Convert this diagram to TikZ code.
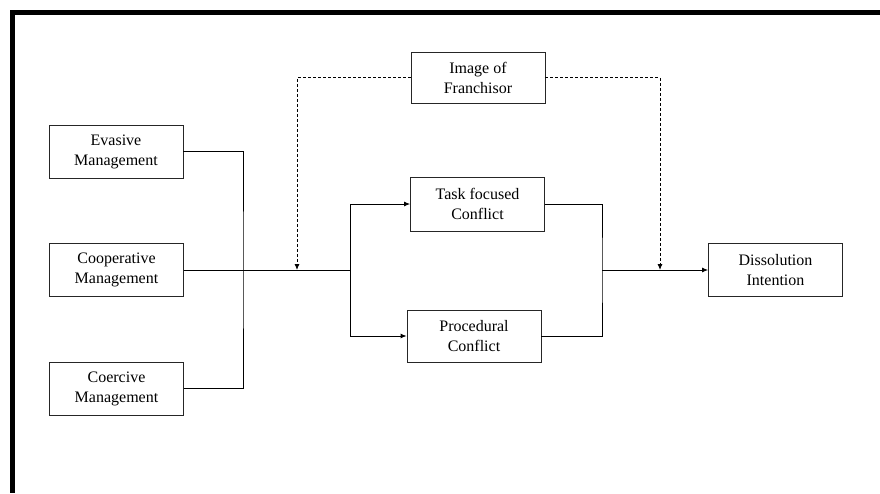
\documentclass[tikz,border=0pt]{standalone}
\usepackage{fontspec}
\setmainfont{Liberation Serif}
\usepackage{tikz}
\usetikzlibrary{arrows.meta}
\usetikzlibrary{positioning}
\tikzset{>={Latex[length=6pt,width=5pt]}}
\tikzstyle{box} = [rectangle, draw=black!85, line width=0.8pt, minimum width=134pt, minimum height=53pt, align=center, font=\fontsize{16}{20}\selectfont, inner sep=0pt]
\tikzstyle{link} = [-, draw=black, line width=0.9pt]
\tikzstyle{moder} = [->, dash pattern=on 3pt off 2pt, line width=0.9pt]

\begin{document}
\begin{tikzpicture}[x=1pt, y=-1pt]
\useasboundingbox (0,0) rectangle (880,493);
\draw [line width=5pt] (880,12.5) -- (12,12.5) -- (12,493);
\node [box] (eva) at (116, 151.5) {Evasive\\Management};
\node [box] (coop) at (116.5, 270) {Cooperative\\Management};
\node [box] (coer) at (116.5, 388.5) {Coercive\\Management};
\node [box, minimum height=51pt] (img) at (478, 77.5) {Image of\\Franchisor};
\node [box, minimum height=54pt] (task) at (477.5, 204) {Task focused\\Conflict};
\node [box, minimum height=52pt] (proc) at (474, 336) {Procedural\\Conflict};
\node [box] (diss) at (775.5, 270) {Dissolution\\Intention};
\coordinate (bus) at (243, 270);
\coordinate (split) at (350, 270);
\coordinate (merge) at (602, 270);
\coordinate (modL) at (297, 270);
\coordinate (modR) at (660, 270);
\draw [link] (eva.east) -| (bus) |- (coer.east);
\draw [link] (coop.east) -- (split);
\draw [link, ->] (split) |- (task.west);
\draw [link, ->] (split) |- (proc.west);
\draw [link] (task.east) -| (merge) |- (proc.east);
\draw [link, ->] (merge) -- (diss.west);
\draw [moder] (img.west) -| (modL);
\draw [moder] (img.east) -| (modR);
\end{tikzpicture}
\end{document}
